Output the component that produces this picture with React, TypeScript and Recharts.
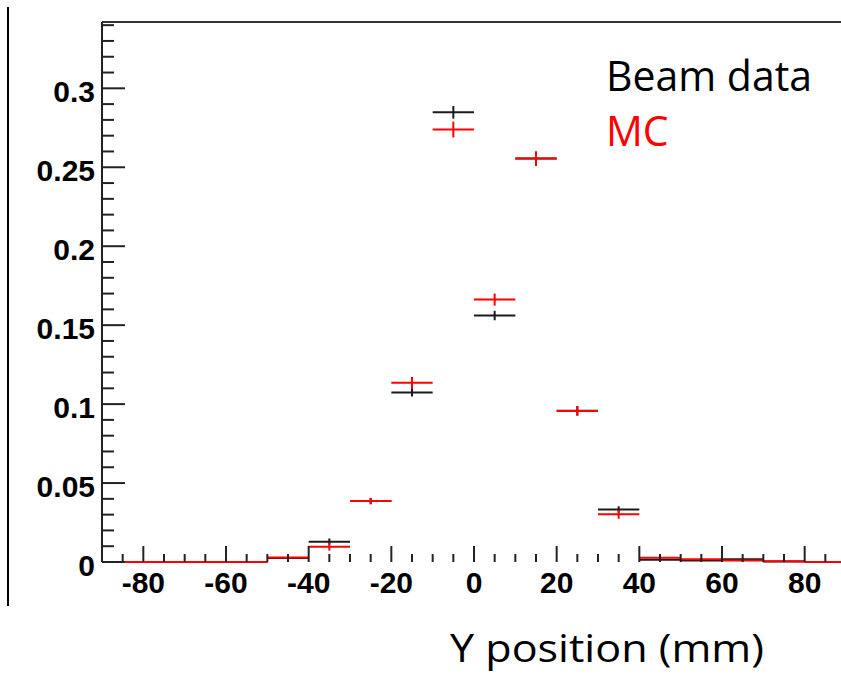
import { ComposedChart, Scatter, ErrorBar, XAxis, YAxis } from "recharts"

// bin centres (mm), bins are 10 mm wide
const binCenters = [-85, -75, -65, -55, -45, -35, -25, -15, -5, 5, 15, 25, 35, 45, 55, 65, 75, 85]
const beamValues = [0, 0, 0, 0, 0.0025, 0.0129, 0.0386, 0.1074, 0.2848, 0.1561, 0.2555, 0.0958, 0.0333, 0.0015, 0.001, 0.0017, 0.0003, 0]
const beamErrors = [0, 0, 0, 0, 0.0008, 0.002, 0.002, 0.0026, 0.004, 0.003, 0.003, 0.003, 0.002, 0.0006, 0.0005, 0.0006, 0.0003, 0]
const mcValues = [0, 0, 0, 0, 0.0028, 0.0097, 0.0386, 0.1135, 0.2739, 0.1662, 0.2555, 0.0956, 0.0302, 0.0027, 0.0017, 0.001, 0.0005, 0]
const mcErrors = [0, 0, 0, 0, 0.001, 0.0025, 0.002, 0.0037, 0.005, 0.0038, 0.0047, 0.003, 0.0028, 0.001, 0.0008, 0.0006, 0.0004, 0]
const BIN_HALF = 5

const xTicks = [-85, -80, -75, -70, -65, -60, -55, -50, -45, -40, -35, -30, -25, -20, -15, -10, -5, 0, 5, 10, 15, 20, 25, 30, 35, 40, 45, 50, 55, 60, 65, 70, 75, 80, 85]
const xMajor = [-80, -60, -40, -20, 0, 20, 40, 60, 80]
const yTicks = [0, 0.01, 0.02, 0.03, 0.04, 0.05, 0.06, 0.07, 0.08, 0.09, 0.1, 0.11, 0.12, 0.13, 0.14, 0.15, 0.16, 0.17, 0.18, 0.19, 0.2, 0.21, 0.22, 0.23, 0.24, 0.25, 0.26, 0.27, 0.28, 0.29, 0.3, 0.31, 0.32, 0.33, 0.34]
const yMajor = [0, 0.05, 0.1, 0.15, 0.2, 0.25, 0.3]

const beamData = binCenters.map((x, i) => ({ x, y: beamValues[i], xerr: BIN_HALF, yerr: beamErrors[i] }))
const mcData = binCenters.map((x, i) => ({ x, y: mcValues[i], xerr: BIN_HALF, yerr: mcErrors[i] }))

const AXIS = "#222"
const labelFont = "'Liberation Sans', Arial, Helvetica, sans-serif"

const XTick = (props: any) => {
  const { x, y, payload } = props
  const major = xMajor.includes(payload.value)
  return (
    <g>
      <line x1={x} x2={x} y1={y} y2={y - (major ? 16 : 8)} stroke={AXIS} strokeWidth={2} />
      {major && (
        <text
          x={x}
          y={y + 31}
          textAnchor="middle"
          fontFamily={labelFont}
          fontWeight="bold"
          fontSize={30}
          fill="#000"
        >
          {payload.value}
        </text>
      )}
    </g>
  )
}

const YTick = (props: any) => {
  const { x, y, payload } = props
  const major = yMajor.includes(payload.value)
  return (
    <g>
      <line x1={x} x2={x + (major ? 23 : 12)} y1={y} y2={y} stroke={AXIS} strokeWidth={2} />
      {major && (
        <text
          x={x - 7}
          y={y + 14}
          textAnchor="end"
          fontFamily={labelFont}
          fontWeight="bold"
          fontSize={30}
          fill="#000"
        >
          {payload.value}
        </text>
      )}
    </g>
  )
}

const NoMarker = () => <g />

const textBase = { position: "absolute" as const, fontFamily: "'Open Sans', sans-serif", whiteSpace: "nowrap" as const, transformOrigin: "left top" }

export default function App() {
  return (
    <div style={{ position: "absolute", left: 0, top: 0, width: 841, height: 674, overflow: "hidden", background: "#fff" }}>
      <div style={{ position: "absolute", left: 7, top: 7, width: 2, height: 599, background: "#000" }} />
      <ComposedChart width={860} height={674} margin={{ top: 21, right: 14, bottom: 111, left: 101 }}>
        <XAxis
          xAxisId="main"
          type="number"
          dataKey="x"
          domain={[-90, 90]}
          allowDataOverflow
          ticks={xTicks}
          interval={0}
          height={1}
          tickSize={0}
          tickMargin={0}
          tickLine={false}
          axisLine={false}
          tick={<XTick />}
        />
        <XAxis
          xAxisId="top"
          orientation="top"
          type="number"
          domain={[-90, 90]}
          height={1}
          tick={false}
          tickLine={false}
          axisLine={{ stroke: "#333", strokeWidth: 2 }}
        />
        <YAxis
          type="number"
          domain={[0, 0.342]}
          allowDataOverflow
          ticks={yTicks}
          interval={0}
          width={1}
          tickSize={0}
          tickMargin={0}
          tickLine={false}
          axisLine={{ stroke: AXIS, strokeWidth: 2 }}
          tick={<YTick />}
        />
        <Scatter xAxisId="main" data={beamData} dataKey="y" shape={<NoMarker />} isAnimationActive={false}>
          <ErrorBar dataKey="xerr" direction="x" width={0} stroke="#1a1a1a" strokeWidth={2} isAnimationActive={false} />
          <ErrorBar dataKey="yerr" direction="y" width={0} stroke="#1a1a1a" strokeWidth={2} isAnimationActive={false} />
        </Scatter>
        <Scatter xAxisId="main" data={mcData} dataKey="y" shape={<NoMarker />} isAnimationActive={false}>
          <ErrorBar dataKey="xerr" direction="x" width={0} stroke="#ff0000" strokeWidth={2} isAnimationActive={false} />
          <ErrorBar dataKey="yerr" direction="y" width={0} stroke="#ff0000" strokeWidth={2} isAnimationActive={false} />
        </Scatter>
      </ComposedChart>
      <div style={{ ...textBase, left: 606, top: 54, fontSize: 42, lineHeight: "42px", color: "#000", transform: "scaleX(0.976)" }}>
        Beam data
      </div>
      <div style={{ ...textBase, left: 606, top: 109, fontSize: 42, lineHeight: "42px", color: "#ff0000", transform: "scaleX(0.976)" }}>
        MC
      </div>
      <div style={{ ...textBase, left: 450, top: 628, fontSize: 38, lineHeight: "38px", color: "#000", transform: "scaleX(1.134)" }}>
        Y position (mm)
      </div>
    </div>
  )
}
